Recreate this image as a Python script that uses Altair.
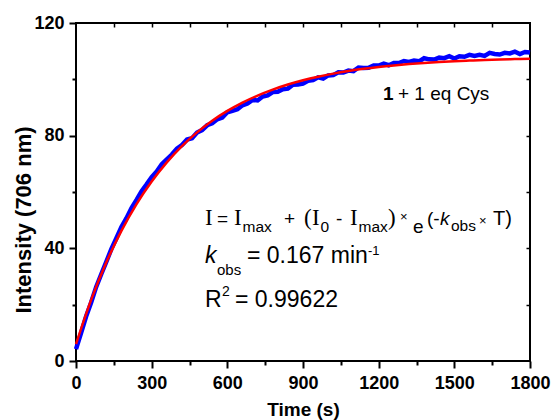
import altair as alt
import pandas as pd

# ---------------- data ----------------
time_s = list(range(0, 1801, 20))
intensity = [4.2, 9.9, 15.8, 20.8, 26.3, 30.8, 35.2, 39.7, 43.6, 47.6,
             50.7, 54.3, 57.2, 60.3, 62.7, 65.3, 67.3, 69.9, 71.6, 73.3,
             75.4, 76.7, 78.6, 79.1, 81.1, 82.0, 83.7, 84.4, 85.8, 86.4,
             88.3, 88.8, 89.4, 90.8, 91.4, 92.7, 92.5, 93.9, 94.3, 95.5,
             95.6, 96.5, 96.7, 98.1, 98.2, 98.5, 99.5, 99.7, 100.7, 100.3,
             101.4, 101.5, 102.5, 102.4, 103.1, 102.9, 104.2, 104.0, 104.1, 104.9,
             104.9, 105.6, 105.0, 105.8, 105.8, 106.5, 106.2, 106.7, 106.4, 107.5,
             107.1, 107.0, 107.7, 107.5, 108.2, 107.4, 108.2, 108.0, 108.7, 108.3,
             108.7, 108.3, 109.4, 109.0, 108.8, 109.4, 109.2, 109.8, 109.0, 109.7,
             109.5]

fit_time = list(range(0, 1801, 60))
fit_intensity = [6.00, 21.69, 34.96, 46.19, 55.70, 63.73, 70.53, 76.30, 81.17, 85.30,
                 88.79, 91.74, 94.24, 96.35, 98.15, 99.67, 100.94, 102.03, 102.95, 103.73,
                 104.39, 104.94, 105.41, 105.81, 106.15, 106.43, 106.67, 106.88, 107.05, 107.20,
                 107.32]

x_major = [0, 300, 600, 900, 1200, 1500, 1800]
x_minor = [150, 450, 750, 1050, 1350, 1650]
x_inner = [150, 300, 450, 600, 750, 900, 1050, 1200, 1350, 1500, 1650]
y_major = [0, 40, 80, 120]
y_minor = [20, 60, 100]
y_inner = [20, 40, 60, 80, 100]

x_title = "Time (s)"
y_title = "Intensity (706 nm)"

# ---------------- layout ----------------
W, H = 454, 338
LEFT, TOP = 76, 23
SANS = "Liberation Sans"
SERIF = "Liberation Serif"

data_df = pd.DataFrame({"t": time_s, "I": intensity})
fit_df = pd.DataFrame({"t": fit_time, "I": fit_intensity})

xs = alt.Scale(domain=[0, 1800], nice=False, zero=False)
ys = alt.Scale(domain=[0, 120], nice=False, zero=False)

common = dict(domain=False, grid=False, tickColor="black", labelColor="black",
              titleColor="black")

blue = alt.Chart(data_df).mark_line(color="#0000ff", strokeWidth=4.5).encode(
    x=alt.X("t:Q", scale=xs, axis=alt.Axis(
        orient="bottom", values=x_major, format="d", tickSize=7, tickWidth=2,
        labelFont=SANS, labelFontSize=18, labelFontWeight="bold", labelPadding=6,
        labelFlush=False, labelOverlap=False, labelBound=False,
        title=x_title, titleFont=SANS, titleFontSize=19, titleFontWeight="bold",
        titleBaseline="alphabetic", titleY=54, **common)),
    y=alt.Y("I:Q", scale=ys, axis=alt.Axis(
        orient="left", values=y_major, format="d", tickSize=7, tickWidth=2,
        labelFont=SANS, labelFontSize=18, labelFontWeight="bold", labelPadding=5,
        labelFlush=False, labelOverlap=False, labelBound=False,
        title=None, **common)),
)

red = alt.Chart(fit_df).mark_line(color="#ff0000", strokeWidth=2.5,
                                  interpolate="monotone").encode(
    x=alt.X("t:Q", scale=xs, axis=alt.Axis(
        orient="bottom", values=x_minor, tickSize=4, tickWidth=2,
        labels=False, title=None, **common)),
    y=alt.Y("I:Q", scale=ys, axis=alt.Axis(
        orient="left", values=y_minor, tickSize=4, tickWidth=2,
        labels=False, title=None, **common)),
)

inner = alt.Chart(fit_df).mark_point(opacity=0).encode(
    x=alt.X("t:Q", scale=xs, axis=alt.Axis(
        orient="top", values=x_inner, tickSize=4, tickWidth=1.5, offset=-4,
        labels=False, title=None, **common)),
    y=alt.Y("I:Q", scale=ys, axis=alt.Axis(
        orient="right", values=y_inner, tickSize=4, tickWidth=1.5, offset=-4,
        labels=False, title=None, **common)),
)


def label(s, x, y, size, font=SANS, weight="normal", style="normal",
          align="left", angle=0):
    return alt.Chart(pd.DataFrame({"s": [s]})).mark_text(
        align=align, baseline="alphabetic", font=font, fontSize=size,
        fontWeight=weight, fontStyle=style, color="black", angle=angle
    ).encode(x=alt.value(x - LEFT), y=alt.value(y - TOP), text="s:N")


texts = [
    # y axis title (rotated)
    label(y_title, 31, 220, 22, weight="bold", align="center", angle=270),
    # sample label
    label("1", 383, 100, 19, weight="bold"),
    label("+ 1 eq Cys", 398, 100, 19),
    # fit equation
    label("I", 205, 225, 23, font=SERIF),
    label("=", 217, 225, 19),
    label("I", 234, 225, 23, font=SERIF),
    label("max", 242.5, 232, 15.5),
    label("+", 284, 225, 19),
    label("(", 304, 225, 23, font=SERIF),
    label("I", 312, 225, 23, font=SERIF),
    label("0", 320.5, 232, 15.5),
    label("-", 336, 225, 19),
    label("I", 350, 225, 23, font=SERIF),
    label("max", 358.5, 232, 15.5),
    label(")", 388, 225, 23, font=SERIF),
    label("\u00d7", 400, 221, 13),
    label("e", 413, 233, 19),
    label("(-", 427, 225, 19),
    label("k", 440, 225, 19, style="italic"),
    label("obs", 451, 231, 15.5),
    label("\u00d7", 479, 225, 13),
    label("T)", 493, 225, 20),
    # rate constant
    label("k", 205, 263, 23, style="italic"),
    label("obs", 217, 275, 15),
    label("= 0.167 min", 247, 263, 23),
    label("-1", 368, 255, 13),
    # R squared
    label("R", 205, 307, 23),
    label("2", 222, 296, 14),
    label("= 0.99622", 235, 307, 23),
]

chart = alt.layer(blue, red, inner, *texts).resolve_axis(
    x="independent", y="independent"
).properties(
    width=W, height=H,
    autosize=alt.AutoSizeParams(type="none"),
    padding={"left": LEFT, "top": TOP, "right": 553 - LEFT - W, "bottom": 420 - TOP - H},
    background="white",
).configure_view(stroke="black", strokeWidth=2)

chart.save("out.html", embed_options={"renderer": "svg", "actions": False})
